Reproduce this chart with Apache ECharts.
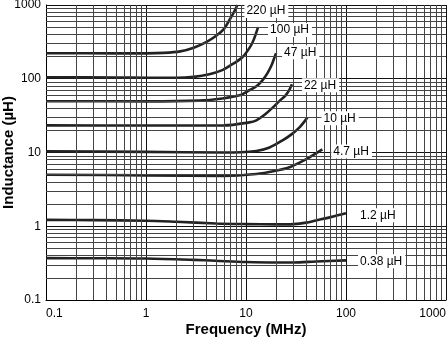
<!DOCTYPE html>
<html>
<head>
<meta charset="utf-8">
<script src="https://cdn.jsdelivr.net/npm/echarts@6/dist/echarts.min.js"></script>
<style>
html,body{margin:0;padding:0;background:#fff;}
#c{width:448px;height:342px;}
</style>
</head>
<body>
<div id="c"></div>
<script>
// Tick labels
const xTickLabels = ['0.1', '1', '10', '100', '1000'];
const yTickLabels = ['0.1', '1', '10', '100', '1000'];
const decades = [0.1, 1, 10, 100];
const minorSteps = [2, 3, 4, 5, 6, 7, 8, 9];

// Curve names
const curveNames = ['220 µH', '100 µH', '47 µH', '22 µH', '10 µH', '4.7 µH', '1.2 µH', '0.38 µH'];

// Frequencies (MHz) and inductance (µH) per curve
const f220 = [0.1, 0.5, 1, 1.5, 2.2, 3, 4, 5, 6, 6.8, 7.5, 8.2];
const L220 = [222, 221, 221, 224, 235, 264, 314, 379, 471, 620, 779, 1000];

const f100 = [0.1, 0.5, 1, 2, 3, 4.3, 5.8, 6.8, 9.2, 10.8, 11.9, 13.2];
const L100 = [105, 104, 103, 103, 106, 115, 131, 148, 196, 260, 334, 502];

const f47 = [0.1, 1, 3.4, 5.8, 8.6, 10.8, 12.7, 14.6, 16.4, 18, 19.3, 20];
const L47 = [49.5, 49.4, 50.5, 54, 59.6, 69.8, 79, 95, 119, 152, 196, 222];

const f22 = [0.1, 1, 6, 10.8, 12.7, 15.1, 18.6, 21.4, 24.9, 27.3, 28.8];
const L22 = [23.3, 23.2, 23.3, 25.6, 27.3, 31.9, 40.9, 49.4, 59.6, 71.9, 84];

const f10 = [0.1, 1, 6, 12.7, 17.2, 23.2, 28.5, 34.3, 38.5, 41.2];
const L10 = [10.4, 10.2, 10.0, 10.5, 11.7, 14.6, 17.6, 21.9, 26.4, 30];

const f4p7 = [0.1, 1, 6, 12.7, 19.3, 27.2, 34.3, 43.2, 58];
const L4p7 = [5.0, 4.9, 4.8, 5.1, 5.6, 6.3, 7.3, 8.6, 11];

const f1p2 = [0.1, 0.3, 1, 2, 5, 10, 20, 30, 40, 50, 70, 100];
const L1p2 = [1.22, 1.21, 1.19, 1.15, 1.09, 1.07, 1.06, 1.07, 1.12, 1.2, 1.33, 1.5];

const f0p38 = [0.1, 0.3, 1, 3, 5, 10, 20, 30, 50, 100];
const L0p38 = [0.37, 0.368, 0.365, 0.35, 0.34, 0.327, 0.322, 0.323, 0.333, 0.345];

const curveFreqs = [f220, f100, f47, f22, f10, f4p7, f1p2, f0p38];
const curveVals = [L220, L100, L47, L22, L10, L4p7, L1p2, L0p38];

// label placement (style, not data)
const labelDist = [7, 10, 6, 10, 14, 9, 12, 12];
const labelDy = [6, 3, -1, 1, 1, 2, 2, 1];

const FONT = '"Liberation Sans", Arial, Helvetica, sans-serif';

const minorVals = [];
decades.forEach(d => minorSteps.forEach(k => minorVals.push(+(k * d).toPrecision(3))));

const gridSeries = {
  type: 'line',
  data: [],
  z: 1,
  silent: true,
  animation: false,
  markLine: {
    silent: true,
    animation: false,
    symbol: ['none', 'none'],
    label: { show: false },
    lineStyle: { color: '#444', width: 1, type: 'solid' },
    data: minorVals.map(v => ({ xAxis: v })).concat(minorVals.map(v => ({ yAxis: v })))
  }
};

const curveSeries = curveNames.map((name, i) => {
  const fs = curveFreqs[i], vs = curveVals[i];
  const last = fs.length - 1;
  return {
    type: 'line',
    name: name,
    data: fs.map((f, j) => [f, vs[j]]),
    z: 3,
    smooth: 0.3,
    symbol: 'none',
    showSymbol: false,
    animation: false,
    lineStyle: { color: '#222', width: 2.6 },
    markPoint: {
      silent: true,
      animation: false,
      symbol: 'circle',
      symbolSize: 0,
      z: 5,
      itemStyle: { color: 'rgba(0,0,0,0)' },
      label: {
        show: true,
        formatter: name,
        position: 'right',
        distance: labelDist[i],
        offset: [0, labelDy[i]],
        color: '#000',
        fontSize: 12,
        fontFamily: FONT,
        backgroundColor: '#fff',
        padding: [1, 3, 1, 2]
      },
      data: [{ coord: [fs[last], vs[last]] }]
    }
  };
});

function logLabel(arr) {
  return function (v) {
    const idx = Math.round(Math.log10(v)) + 1;
    return arr[idx] !== undefined ? arr[idx] : '';
  };
}

const chart = echarts.init(document.getElementById('c'), null, { renderer: 'canvas' });
chart.setOption({
  backgroundColor: '#fff',
  animation: false,
  grid: { left: 46, right: 2, top: 5, bottom: 42, containLabel: false, outerBoundsMode: 'none' },
  xAxis: {
    type: 'log',
    logBase: 10,
    min: 0.1,
    max: 1000,
    name: 'Frequency (MHz)',
    nameLocation: 'middle',
    nameGap: 22,
    nameMoveOverlap: false,
    nameTextStyle: { fontFamily: FONT, fontSize: 15, fontWeight: 'bold', color: '#000' },
    axisLine: { show: true, lineStyle: { color: '#000', width: 1 } },
    axisTick: { show: false },
    axisLabel: {
      formatter: logLabel(xTickLabels),
      fontFamily: FONT, fontSize: 12, color: '#000', margin: 8,
      alignMinLabel: 'left', alignMaxLabel: 'right'
    },
    splitLine: { show: true, lineStyle: { color: '#111', width: 1 } },
    minorTick: { show: false },
    minorSplitLine: { show: false }
  },
  yAxis: {
    type: 'log',
    logBase: 10,
    min: 0.1,
    max: 1000,
    name: 'Inductance (µH)',
    nameLocation: 'middle',
    nameGap: 30,
    nameRotate: 90,
    nameMoveOverlap: false,
    nameTextStyle: { fontFamily: FONT, fontSize: 15, fontWeight: 'bold', color: '#000' },
    axisLine: { show: true, lineStyle: { color: '#000', width: 1 } },
    axisTick: { show: false },
    axisLabel: {
      formatter: logLabel(yTickLabels),
      fontFamily: FONT, fontSize: 12, color: '#000', margin: 5
    },
    splitLine: { show: true, lineStyle: { color: '#111', width: 1 } }
  },
  series: [gridSeries].concat(curveSeries)
});
</script>
</body>
</html>
